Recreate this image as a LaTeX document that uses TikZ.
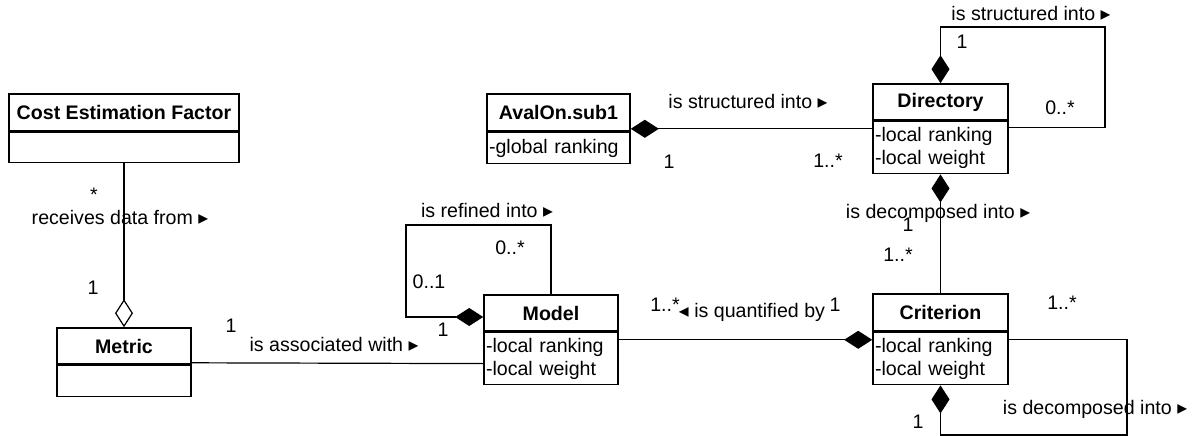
\documentclass[tikz,border=0pt]{standalone}
\usepackage{fontspec}
\setmainfont{Liberation Sans}
\newfontfamily\symfont{DejaVu Sans}
\usetikzlibrary{arrows.meta}

\newcommand{\umlfont}{\fontsize{19.6}{23}\selectfont}
\newcommand{\rdir}{{\symfont ▸}}
\newcommand{\ldir}{{\symfont ◂}}

\begin{document}
\begin{tikzpicture}[x=1pt, y=-1pt, font=\umlfont,
    ctitle/.style={draw, line width=1.6pt, font=\umlfont\bfseries, inner sep=0pt},
    cattr/.style={draw, line width=1.6pt, align=left, inner xsep=2pt, inner ysep=0pt, anchor=north},
    assoc/.style={line width=1.2pt},
    comp/.style={-{Diamond[length=28pt, width=18pt]}},
    aggr/.style={-{Diamond[open, fill=white, length=28pt, width=18pt]}},
    lbl/.style={inner sep=0pt}]
    \useasboundingbox (0,0) rectangle (1202,436);

    % Draw the classes
    \node[ctitle, minimum width=230pt, minimum height=37pt] (cefT) at (124,112.5) {Cost Estimation Factor};
    \node[cattr, text width=226pt, minimum height=30pt] (cefA) at (cefT.south) {};

    \node[ctitle, minimum width=134pt, minimum height=36pt] (metT) at (124,346) {Metric};
    \node[cattr, text width=130pt, minimum height=31pt] (metA) at (metT.south) {};

    \node[ctitle, minimum width=143pt, minimum height=37pt] (avT) at (558.5,112.5) {AvalOn.sub1};
    \node[cattr, text width=139pt, minimum height=31pt] (avA) at (avT.south) {-global ranking};

    \node[ctitle, minimum width=135pt, minimum height=36pt] (dirT) at (940.5,102) {Directory};
    \node[cattr, text width=131pt, minimum height=52pt] (dirA) at (dirT.south) {-local ranking\\-local weight};

    \node[ctitle, minimum width=134pt, minimum height=36pt] (modT) at (551,313) {Model};
    \node[cattr, text width=130pt, minimum height=52pt] (modA) at (modT.south) {-local ranking\\-local weight};

    \node[ctitle, minimum width=135pt, minimum height=37pt] (criT) at (940.5,312.5) {Criterion};
    \node[cattr, text width=131pt, minimum height=52pt] (criA) at (criT.south) {-local ranking\\-local weight};

    % Cost Estimation Factor -- Metric
    \draw[assoc, aggr] (cefA.south) -- (metT.north);
    \node[lbl] (cefM) at (94,195) {*};
    \node[lbl] (cefL) at (120,217) {receives data from \rdir};
    \node[lbl] (metM) at (93,288) {1};

    % Metric -- Model
    \draw[assoc] ([yshift=2pt]metT.south east) -- ([yshift=-5pt]modA.west);
    \node[lbl] (assM) at (231,326) {1};
    \node[lbl] (assL) at (334,344) {is associated with \rdir};

    % Model refined into Model
    \draw[assoc, comp] (modT.north) -- (551,225) -| (406,317) -- ([yshift=-4pt]modT.west);
    \node[lbl] (refL) at (487,210) {is refined into \rdir};
    \node[lbl] (refA) at (510,248) {0..*};
    \node[lbl] (refB) at (429,282) {0..1};
    \node[lbl] (refC) at (443,330) {1};

    % Model -- Criterion
    \draw[assoc, comp] ([yshift=-8pt]modA.north east) -- ([yshift=-8pt]criA.north west);
    \node[lbl] (quaA) at (665,305) {1..*};
    \node[lbl] (quaL) at (752,312) {\ldir\ is quantified by};
    \node[lbl] (quaB) at (835,305) {1};

    % AvalOn.sub1 -- Directory
    \draw[assoc, comp] ([yshift=-8pt]dirA.north west) -- ([yshift=3pt]avT.south east);
    \node[lbl] (strL) at (748,101) {is structured into \rdir};
    \node[lbl] (strA) at (669,162) {1};
    \node[lbl] (strB) at (828,161) {1..*};

    % Directory structured into Directory
    \draw[assoc, comp] ([yshift=-7pt]dirA.north east) -| (1105,27) -| (dirT.north);
    \node[lbl] (dstL) at (1031,13) {is structured into \rdir};
    \node[lbl] (dstA) at (962,42) {1};
    \node[lbl] (dstB) at (1060,108) {0..*};

    % Directory -- Criterion
    \draw[assoc, comp] (criT.north) -- (dirA.south);
    \node[lbl] (decL) at (938,213) {is decomposed into \rdir};
    \node[lbl] (decA) at (908,225) {1};
    \node[lbl] (decB) at (898,255) {1..*};

    % Criterion decomposed into Criterion
    \draw[assoc, comp] ([yshift=-8pt]criA.north east) -| (1127,435) -| (criA.south);
    \node[lbl] (cdeL) at (1095,409) {is decomposed into \rdir};
    \node[lbl] (cdeA) at (1062,303) {1..*};
    \node[lbl] (cdeB) at (918,422) {1};
\end{tikzpicture}
\end{document}
